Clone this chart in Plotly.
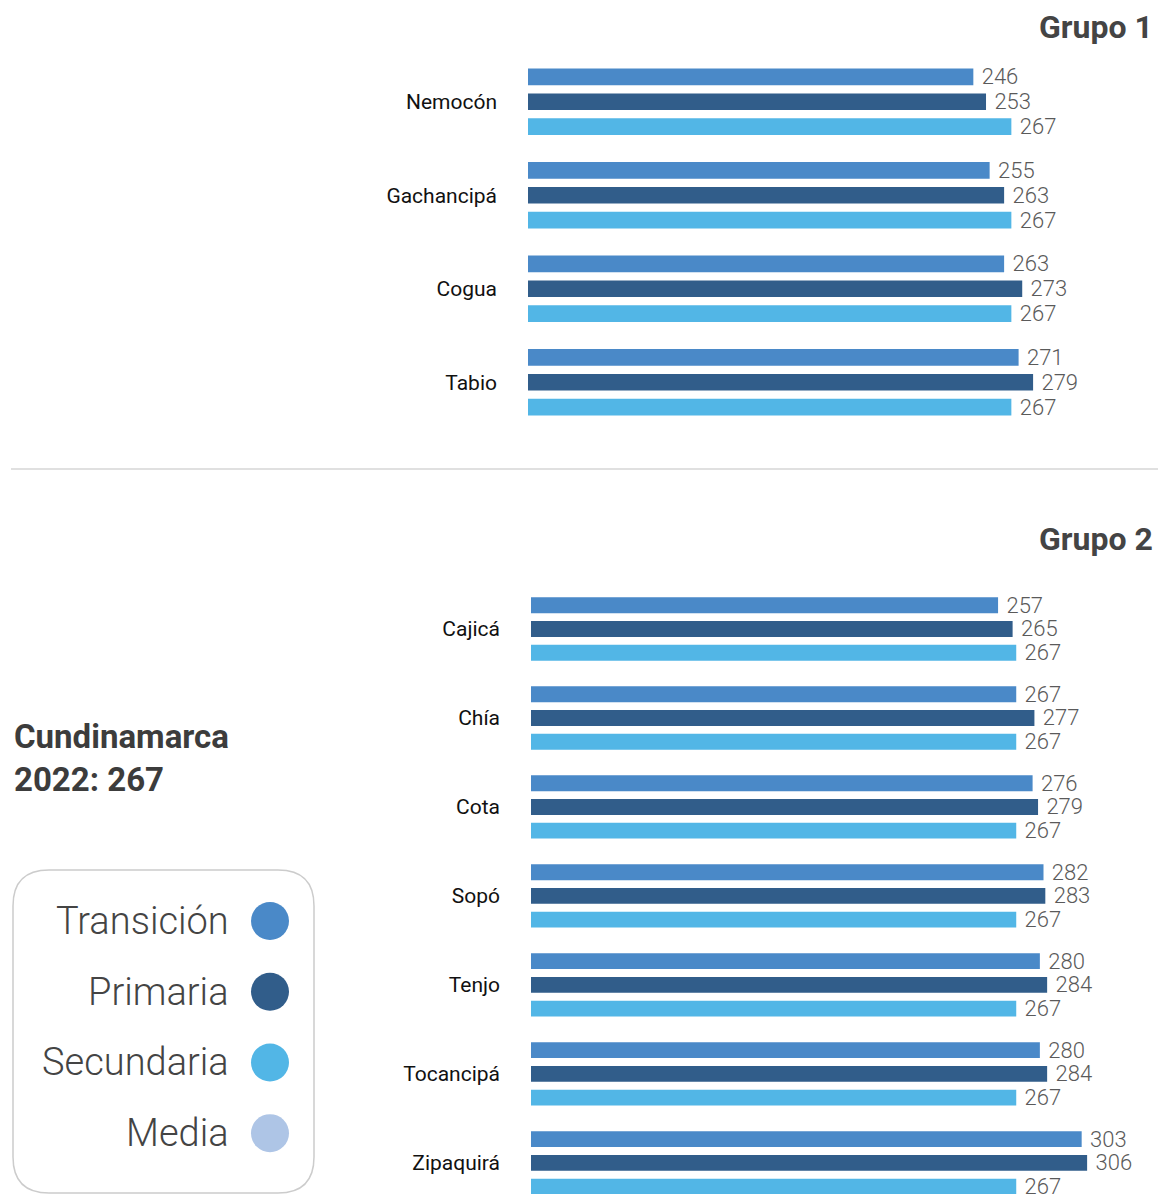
import plotly.graph_objects as go

W, H = 1158, 1194

# ---------------- data ----------------
grupo1_munis = ["Nemocón", "Gachancipá", "Cogua", "Tabio"]
grupo1_transicion = [246, 255, 263, 271]
grupo1_primaria = [253, 263, 273, 279]
grupo1_secundaria = [267, 267, 267, 267]

grupo2_munis = ["Cajicá", "Chía", "Cota", "Sopó", "Tenjo", "Tocancipá", "Zipaquirá"]
grupo2_transicion = [257, 267, 276, 282, 280, 280, 303]
grupo2_primaria = [265, 277, 279, 283, 284, 284, 306]
grupo2_secundaria = [267, 267, 267, 267, 267, 267, 267]

series_names = ["Transición", "Primaria", "Secundaria", "Media"]
series_colors = ["#4A89C8", "#315D8A", "#52B6E6", "#AEC5E6"]

dept_label = "Cundinamarca<br>2022: 267"
group_titles = ["Grupo 1", "Grupo 2"]

FONT = "Roboto"


def px_x(p):
    return p / W


def px_y(p):
    return 1 - p / H


fig = go.Figure()

groups = [
    (grupo1_munis, [grupo1_transicion, grupo1_primaria, grupo1_secundaria], "x", "y"),
    (grupo2_munis, [grupo2_transicion, grupo2_primaria, grupo2_secundaria], "x2", "y2"),
]
for munis, vals, xa, ya in groups:
    for i, v in enumerate(vals):
        fig.add_trace(go.Bar(
            y=munis, x=v, orientation="h", name=series_names[i],
            marker=dict(color=series_colors[i], line=dict(width=0)),
            text=v, texttemplate=" %{x}", textposition="outside", constraintext="none",
            textfont=dict(family=FONT, size=22, color="#5a5a5a", weight=300),
            cliponaxis=False, showlegend=False, xaxis=xa, yaxis=ya,
            hoverinfo="skip",
        ))

# legend as a small hidden subplot
fig.add_trace(go.Scatter(
    x=[257] * 4, y=series_names, mode="markers",
    marker=dict(size=38, color=series_colors, line=dict(width=0)),
    xaxis="x3", yaxis="y3", showlegend=False, hoverinfo="skip", cliponaxis=False,
))
for n in series_names:
    fig.add_annotation(x=218, y=n, xref="x3", yref="y3", text=n, showarrow=False,
                       xanchor="right", yanchor="middle",
                       font=dict(family=FONT, size=38, color="#444444", weight=300))

axis_common = dict(showgrid=False, zeroline=False, showline=False, ticks="",
                   fixedrange=True)
tick_font = dict(family=FONT, size=21, color="#111111", weight=400)
fig.update_layout(
    width=W, height=H,
    margin=dict(l=0, r=0, t=0, b=0),
    paper_bgcolor="white", plot_bgcolor="white",
    barmode="group", bargap=0.2, bargroupgap=0.33,
    font=dict(family=FONT),
    xaxis=dict(domain=[px_x(528), 1], range=[0, 348], showticklabels=False, anchor="y", **axis_common),
    yaxis=dict(domain=[px_y(429), px_y(55)], range=[3.5, -0.5], anchor="x",
               ticklabelstandoff=30, tickfont=tick_font, **axis_common),
    xaxis2=dict(domain=[px_x(531), 1], range=[0, 345], showticklabels=False, anchor="y2", **axis_common),
    yaxis2=dict(domain=[0, px_y(584.5)], range=[6.35, -0.5], anchor="x2",
                ticklabelstandoff=30, tickfont=tick_font, **axis_common),
    xaxis3=dict(domain=[px_x(13), px_x(314)], range=[0, 301], visible=False, anchor="y3", **axis_common),
    yaxis3=dict(domain=[0, px_y(870)], range=[3.86, -0.721], visible=False, anchor="x3", **axis_common),
)

# group titles
for t, yp in zip(group_titles, [27, 539]):
    fig.add_annotation(x=px_x(1155), y=px_y(yp), xref="paper", yref="paper", text=f"<b>{t}</b>",
                       showarrow=False, xanchor="right", yanchor="middle",
                       font=dict(family=FONT, size=32, color="#444444"))

# department average
fig.add_annotation(x=px_x(12), y=px_y(758), xref="paper", yref="paper", text=f"<b>{dept_label}</b>",
                   showarrow=False, xanchor="left", yanchor="middle", align="left",
                   font=dict(family=FONT, size=33, color="#3c3c3c"))

# separator
fig.add_shape(type="line", xref="paper", yref="paper", x0=px_x(11), x1=1, y0=px_y(469), y1=px_y(469),
              line=dict(color="#d6d6d6", width=1.5))

# rounded legend box
x0, x1, y0, y1, r = 13, 314, 870, 1193, 36
def P(x, y):
    return f"{px_x(x)},{px_y(y)}"
path = (f"M {P(x0 + r, y0)} L {P(x1 - r, y0)} Q {P(x1, y0)} {P(x1, y0 + r)} "
        f"L {P(x1, y1 - r)} Q {P(x1, y1)} {P(x1 - r, y1)} L {P(x0 + r, y1)} "
        f"Q {P(x0, y1)} {P(x0, y1 - r)} L {P(x0, y0 + r)} Q {P(x0, y0)} {P(x0 + r, y0)} Z")
fig.add_shape(type="path", path=path, xref="paper", yref="paper",
              line=dict(color="#cccccc", width=1.5), layer="below")

fig.write_html("out.html", config={"displayModeBar": False},
               post_script="document.body.style.margin='0';document.body.style.overflow='hidden';")
